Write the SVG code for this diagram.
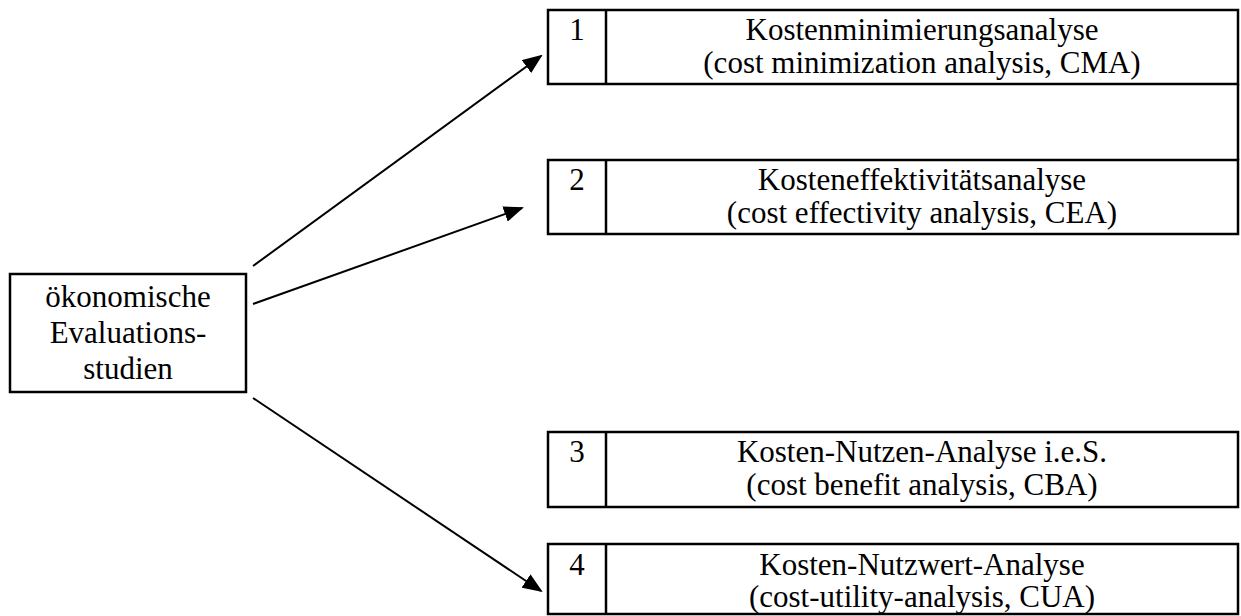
<svg xmlns="http://www.w3.org/2000/svg" width="1241" height="616" viewBox="0 0 1241 616">
<style>
.box{fill:#fff;stroke:#000;stroke-width:2.5}
.ln{stroke:#000;stroke-width:2.5;fill:none}
.t{font-family:"Liberation Serif","Times New Roman",serif;font-size:31px;fill:#000;text-anchor:middle}
.c{stroke:#000;stroke-width:2;fill:none;marker-end:url(#ah)}
</style>
<defs>
<marker id="ah" markerWidth="10" markerHeight="8" refX="9" refY="4" orient="auto" markerUnits="strokeWidth">
<path d="M0,0 L10,4 L0,8 Z" fill="#000"/>
</marker>
</defs>
<rect width="1241" height="616" fill="#fff"/>
<g id="connectors">
<line class="c" x1="253" y1="266" x2="541" y2="56"/>
<line class="c" x1="253" y1="304" x2="522" y2="208"/>
<line class="c" x1="253" y1="398" x2="541" y2="591"/>
</g>
<line class="ln" x1="1238" y1="84" x2="1238" y2="160"/>
<g id="source">
<rect class="box" x="10" y="274" width="236" height="118"/>
<text class="t" x="128" y="307">ökonomische</text>
<text class="t" x="128" y="343">Evaluations-</text>
<text class="t" x="128" y="379">studien</text>
</g>
<g id="n1">
<rect class="box" x="548" y="10" width="690" height="74"/>
<line class="ln" x1="606" y1="10" x2="606" y2="84"/>
<text class="t" x="577" y="40">1</text>
<text class="t" x="922" y="40">Kostenminimierungsanalyse</text>
<text class="t" x="922" y="73">(cost minimization analysis, CMA)</text>
</g>
<g id="n2">
<rect class="box" x="548" y="160" width="690" height="74"/>
<line class="ln" x1="606" y1="160" x2="606" y2="234"/>
<text class="t" x="577" y="190">2</text>
<text class="t" x="922" y="190">Kosteneffektivitätsanalyse</text>
<text class="t" x="922" y="223">(cost effectivity analysis, CEA)</text>
</g>
<g id="n3">
<rect class="box" x="548" y="432" width="690" height="75"/>
<line class="ln" x1="606" y1="432" x2="606" y2="507"/>
<text class="t" x="577" y="462">3</text>
<text class="t" x="922" y="462">Kosten-Nutzen-Analyse i.e.S.</text>
<text class="t" x="922" y="495">(cost benefit analysis, CBA)</text>
</g>
<g id="n4">
<rect class="box" x="548" y="544" width="690" height="70"/>
<line class="ln" x1="606" y1="544" x2="606" y2="614"/>
<text class="t" x="577" y="575">4</text>
<text class="t" x="922" y="575">Kosten-Nutzwert-Analyse</text>
<text class="t" x="922" y="607">(cost-utility-analysis, CUA)</text>
</g>
</svg>
